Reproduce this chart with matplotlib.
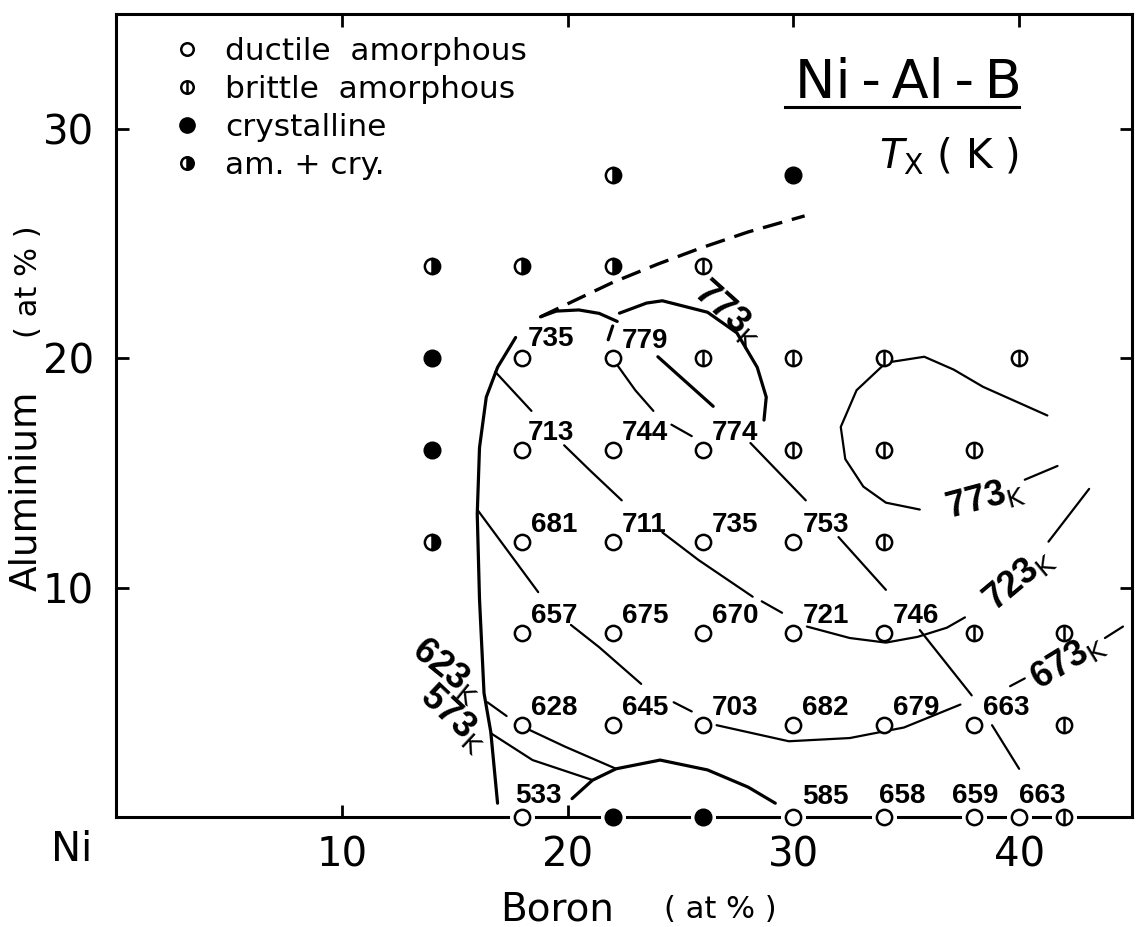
import numpy as np
import matplotlib
matplotlib.use("Agg")
import matplotlib.pyplot as plt
from matplotlib.lines import Line2D

# sample compositions (B at%, Al at%)
ductile_B = [18, 22, 18, 22, 26, 18, 22, 26, 30, 18, 22, 26, 30, 34,
             18, 22, 26, 30, 34, 38, 18, 30, 34, 38, 40]
ductile_Al = [20, 20, 16, 16, 16, 12, 12, 12, 12, 8, 8, 8, 8, 8,
              4, 4, 4, 4, 4, 4, 0, 0, 0, 0, 0]
# crystallisation temperature Tx (K) of the ductile ribbons
ductile_Tx = [735, 779, 713, 744, 774, 681, 711, 735, 753, 657, 675, 670, 721, 746,
              628, 645, 703, 682, 679, 663, 533, 585, 658, 659, 663]

brittle_B = [26, 26, 30, 34, 40, 30, 34, 38, 34, 38, 42, 42, 42]
brittle_Al = [24, 20, 20, 20, 20, 16, 16, 16, 12, 8, 8, 4, 0]

cryst_B = [30, 14, 14, 22, 26]
cryst_Al = [28, 20, 16, 0, 0]

mixed_B = [22, 14, 18, 22, 14]
mixed_Al = [28, 24, 24, 24, 12]

# amorphous-forming boundary (thick)
boundary = [(16.9, 0.6), (16.6, 3.7), (16.3, 5.4), (16.1, 9.5), (16.0, 13.2),
            (16.1, 16.1), (16.4, 18.3), (16.9, 19.6), (17.7, 20.9)]
boundary_top = [(18.8, 21.8), (19.5, 22.05), (20.5, 22.1), (21.4, 21.95), (22.2, 21.6)]
slash_779 = [(21.8, 20.8), (22.0, 21.4)]
dome = [(20.2, 0.8), (21.1, 1.6), (22.15, 2.1), (24.1, 2.48), (26.2, 2.05),
        (28.0, 1.3), (29.2, 0.6)]
# ductile / brittle limit (dashed)
glass_limit = [(18.8, 21.8), (20.5, 22.6), (22.0, 23.3), (24.0, 24.1), (25.9, 24.8),
               (28.0, 25.5), (30.5, 26.2)]

# iso-Tx lines
loop_773 = [(22.3, 21.96), (23.5, 22.4), (24.2, 22.5), (26.2, 22.0), (27.5, 21.1),
            (28.4, 19.6), (28.8, 18.3), (28.7, 17.3)]
right_773 = [(41.25, 17.5), (38.4, 18.75), (37.1, 19.5), (35.8, 20.06), (34.1, 19.8),
             (32.8, 18.6), (32.1, 17.0), (32.3, 15.6), (33.1, 14.4), (34.1, 13.7),
             (35.6, 13.4)]
right_773_tail = [(40.25, 14.7), (41.7, 15.3)]
iso_723a = [(30.6, 8.3), (32.5, 7.8), (34.1, 7.6), (35.5, 7.85), (36.8, 8.25), (37.6, 8.7)]
iso_723b = [(41.3, 12.0), (43.1, 14.3)]
iso_673a = [(26.6, 4.0), (29.8, 3.3), (32.5, 3.44), (34.9, 3.9), (37.4, 4.9)]
iso_673b = [(39.6, 5.7), (40.25, 6.04)]
iso_673c = [(43.8, 7.8), (44.6, 8.3)]
iso_623a = [(16.45, 5.0), (17.3, 4.4)]
iso_623b = [(18.3, 3.8), (19.9, 3.06), (22.15, 2.1)]
iso_573 = [(16.6, 3.65), (18.45, 2.48), (21.1, 1.61)]

# short segments between the labelled points
seg_735_713 = [(16.8, 19.4), (18.4, 17.7)]
seg_779_744 = [(22.2, 19.7), (23.0, 18.6), (23.8, 17.7)]
seg_779_774 = [(24.0, 20.06), (26.45, 17.9)]
seg_744_774 = [(24.6, 17.1), (25.5, 16.6)]
seg_774_753 = [(28.1, 16.3), (30.55, 13.8)]
seg_753_746 = [(32.0, 12.2), (34.1, 9.9)]
seg_713_711 = [(19.85, 16.2), (21.0, 15.1), (22.4, 13.8)]
seg_711_670 = [(24.2, 12.4), (25.8, 11.2), (28.2, 9.6)]
seg_670_721 = [(28.6, 9.4), (29.5, 8.9)]
seg_b_657 = [(16.0, 13.4), (18.7, 9.8)]
seg_657_645 = [(20.15, 8.37), (21.4, 7.4), (23.26, 5.8)]
seg_645_703 = [(24.7, 5.0), (25.5, 4.6)]
seg_746_663 = [(35.6, 8.15), (37.9, 5.3)]
seg_663_663 = [(38.8, 4.0), (40.0, 2.1)]

thick_lines = [boundary, boundary_top, slash_779, dome, loop_773, seg_779_774]
thin_lines = [right_773, right_773_tail, iso_723a, iso_723b, iso_673a, iso_673b, iso_673c,
              iso_623a, iso_623b, iso_573, seg_735_713, seg_779_744, seg_744_774,
              seg_774_753, seg_753_746, seg_713_711, seg_711_670, seg_670_721,
              seg_b_657, seg_657_645, seg_645_703, seg_746_663, seg_663_663]

# isotherm labels: value, B, Al, angle
iso_labels = [("773", 27.15, 21.95, -42), ("773", 38.5, 13.9, 15),
              ("723", 40.0, 10.37, 40), ("673", 42.16, 6.81, 31.5),
              ("623", 14.67, 6.4, -39), ("573", 14.97, 4.3, -43)]

# label offsets (px) where the number is not up-right of its point
label_shift = {(18, 20): (5, 12), (18, 16): (5, 10), (18, 0): (-7, 14), (30, 0): (9, 13),
               (34, 0): (-5, 14), (38, 0): (-22, 14), (40, 0): (0, 14)}

MS = 11
MEW = 1.8


def brittle(ax, x, y, ms=MS, **kw):
    ax.plot(x, y, ls='none', marker='o', ms=ms, mfc='white', mec='k', mew=MEW, **kw)
    ax.plot(x, y, ls='none', marker='|', ms=ms, mec='k', mew=MEW, **kw)


def plot():
    plt.rcParams['font.family'] = 'DejaVu Sans'
    fig = plt.figure(figsize=(11.36, 9.27), dpi=100)
    ax = fig.add_axes([0.1021, 0.1187, 0.8944, 0.8662])
    ax.set_xlim(0, 45)
    ax.set_ylim(0, 35)

    for s in ax.spines.values():
        s.set_linewidth(2.2)
    ax.set_xticks([10, 20, 30, 40])
    ax.set_yticks([10, 20, 30])
    ax.tick_params(direction='in', length=9, width=2, top=True, right=True,
                   labelsize=29)
    ax.tick_params(axis='x', pad=13)
    ax.tick_params(axis='y', pad=16)
    ax.text(-1.95, -1.45, "Ni", fontsize=29, ha='center', va='center', clip_on=False)

    fig.text(0.49, 0.0194, "Boron", fontsize=28, ha='center', va='center')
    fig.text(0.634, 0.0194, "( at % )", fontsize=22, ha='center', va='center')
    fig.text(0.023, 0.47, "Aluminium", fontsize=27, rotation=90, ha='center', va='center')
    fig.text(0.025, 0.696, "( at % )", fontsize=22, rotation=90, ha='center', va='center')

    # title block
    fig.text(0.6998, 0.8943, "Ni\u2009-\u2009Al\u2009-\u2009B", fontsize=39,
             ha='left', va='baseline')
    fig.add_artist(Line2D([0.691, 0.897], [0.8846, 0.8846], color='k', lw=2.2,
                          transform=fig.transFigure))
    fig.text(0.7738, 0.8188, r"$T_{\mathsf{X}}$ ( K )", fontsize=29, ha='left', va='baseline')

    # contour lines
    for pts in thick_lines:
        p = np.array(pts)
        ax.plot(p[:, 0], p[:, 1], color='k', lw=2.3, solid_capstyle='round')
    for pts in thin_lines:
        p = np.array(pts)
        ax.plot(p[:, 0], p[:, 1], color='k', lw=1.6, solid_capstyle='round')
    p = np.array(glass_limit)
    ax.plot(p[:, 0], p[:, 1], color='k', lw=2.4, dashes=(6, 3))

    for txt, x, y, ang in iso_labels:
        ax.text(x, y, txt + r"$_{\mathsf{K}}$", fontsize=26, fontweight='bold',
                family='Liberation Sans', rotation=ang, rotation_mode='anchor',
                ha='center', va='center')

    # white halo for points sitting on the B axis
    on_axis = [(b, a) for b, a in zip(ductile_B + brittle_B + cryst_B,
                                      ductile_Al + brittle_Al + cryst_Al) if a == 0]
    hb = [b for b, a in on_axis]
    ha_ = [a for b, a in on_axis]
    ax.plot(hb, ha_, ls='none', marker='o', ms=17, mfc='white', mec='white',
            clip_on=False, zorder=4)

    ax.plot(ductile_B, ductile_Al, ls='none', marker='o', ms=MS, mfc='white', mec='k',
            mew=MEW, clip_on=False, zorder=5)
    brittle(ax, brittle_B, brittle_Al, clip_on=False, zorder=5)
    ax.plot(cryst_B, cryst_Al, ls='none', marker='o', ms=MS + 1, mfc='k', mec='k',
            clip_on=False, zorder=5)
    ax.plot(mixed_B, mixed_Al, ls='none', marker='o', ms=MS, fillstyle='right',
            mfc='k', mfcalt='white', mec='k', mew=MEW, clip_on=False, zorder=5)

    for b, a, t in zip(ductile_B, ductile_Al, ductile_Tx):
        dx, dy = label_shift.get((b, a), (9, 10))
        ax.annotate(str(t), (b, a), xytext=(dx * 0.72, dy * 0.72), textcoords='offset points',
                    fontsize=20, fontweight='bold', family='Liberation Sans',
                    ha='left', va='baseline', zorder=6)

    # legend
    h_duct = Line2D([], [], ls='none', marker='o', ms=9, mfc='white', mec='k', mew=MEW)
    h_br1 = Line2D([], [], ls='none', marker='o', ms=9, mfc='white', mec='k', mew=MEW)
    h_br2 = Line2D([], [], ls='none', marker='|', ms=9, mec='k', mew=MEW)
    h_cry = Line2D([], [], ls='none', marker='o', ms=11, mfc='k', mec='k')
    h_mix = Line2D([], [], ls='none', marker='o', ms=9, fillstyle='right', mfc='k',
                   mfcalt='white', mec='k', mew=MEW)
    ax.legend([h_duct, (h_br1, h_br2), h_cry, h_mix],
              ["ductile  amorphous", "brittle  amorphous", "crystalline", "am. + cry."],
              loc='upper left', bbox_to_anchor=(0.0556, 0.9714), borderaxespad=0,
              borderpad=0, frameon=False, fontsize=22.5, handlelength=0.93,
              handletextpad=0.75, labelspacing=0.29)

    fig.savefig("out.png", dpi=100)


def main():
    plot()


if __name__ == "__main__":
    main()
